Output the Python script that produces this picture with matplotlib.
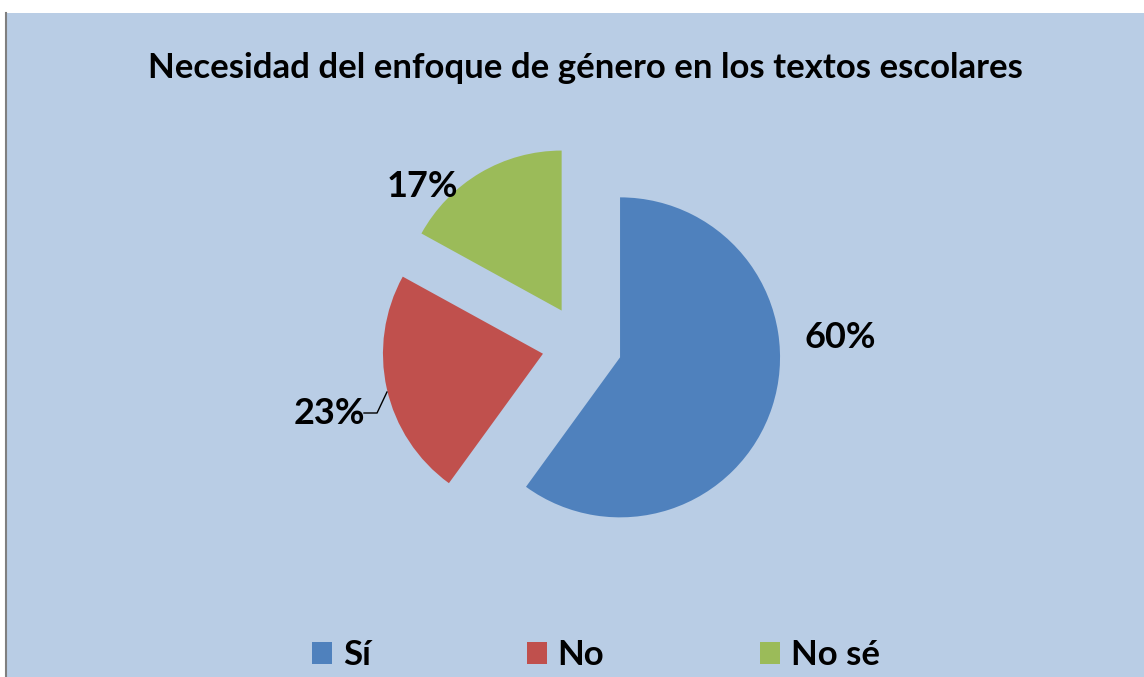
import matplotlib.pyplot as plt
from matplotlib.patches import Rectangle
from matplotlib.lines import Line2D

# data
categories = ["Sí", "No", "No sé"]
shares = [60, 23, 17]
pct_labels = ["60%", "23%", "17%"]
colors = ["#4F81BD", "#C0504D", "#9BBB59"]
title = "Necesidad del enfoque de género en los textos escolares"

plt.rcParams["font.family"] = ["Lato", "DejaVu Sans"]
bg = "#B9CDE5"

W, H = 1144, 677
fig = plt.figure(figsize=(W / 100, H / 100), dpi=100)
fig.patch.set_facecolor("white")

# chart area background + left border line
fig.patches.append(Rectangle((7 / W, 0), 1 - 7 / W, (H - 13) / H,
                             transform=fig.transFigure, facecolor=bg,
                             edgecolor="none", zorder=-5))
fig.add_artist(Line2D([6 / W, 6 / W], [0, (H - 13) / H], transform=fig.transFigure,
                      color="#7F7F7F", lw=1.5, zorder=-4))

fig.text(585 / W, 1 - 68 / H, title, ha="center", va="center",
         fontsize=25, fontweight="bold")

# pie: centre (582, 345) px, radius 160 px
ax = fig.add_axes([342 / W, 92 / H, 480 / W, 480 / H])
ax.set_facecolor("none")
wedges, _ = ax.pie(shares, colors=colors, startangle=90, counterclock=False,
                   explode=[0.25] * 3, radius=1.0,
                   wedgeprops=dict(linewidth=0))
ax.set_xlim(-1.5, 1.5)
ax.set_ylim(-1.5, 1.5)
ax.set_aspect("equal")
ax.axis("off")

label_pos = [(1.6125, 0.044), (-1.58, -0.425), (-1.0, 0.99)]
for txt, (x, y) in zip(pct_labels, label_pos):
    ax.text(x, y, txt, ha="center", va="center", fontsize=26, fontweight="bold")
# leader line for the 23% label
ax.plot([-1.3625, -1.281, -1.219], [-0.425, -0.425, -0.294], color="black", lw=1.0,
        clip_on=False)

handles = [Rectangle((0, 0), 1, 1, facecolor=c, edgecolor="none") for c in colors]
leg = fig.legend(handles, categories, loc="center", bbox_to_anchor=(596 / W, 22 / H),
                 ncol=3, frameon=False, prop=dict(size=25, weight="bold"),
                 handlelength=0.58, handleheight=0.58, handletextpad=0.3,
                 columnspacing=4.5, borderpad=0, borderaxespad=0)

fig.savefig("out.png", dpi=100, facecolor=fig.get_facecolor())
